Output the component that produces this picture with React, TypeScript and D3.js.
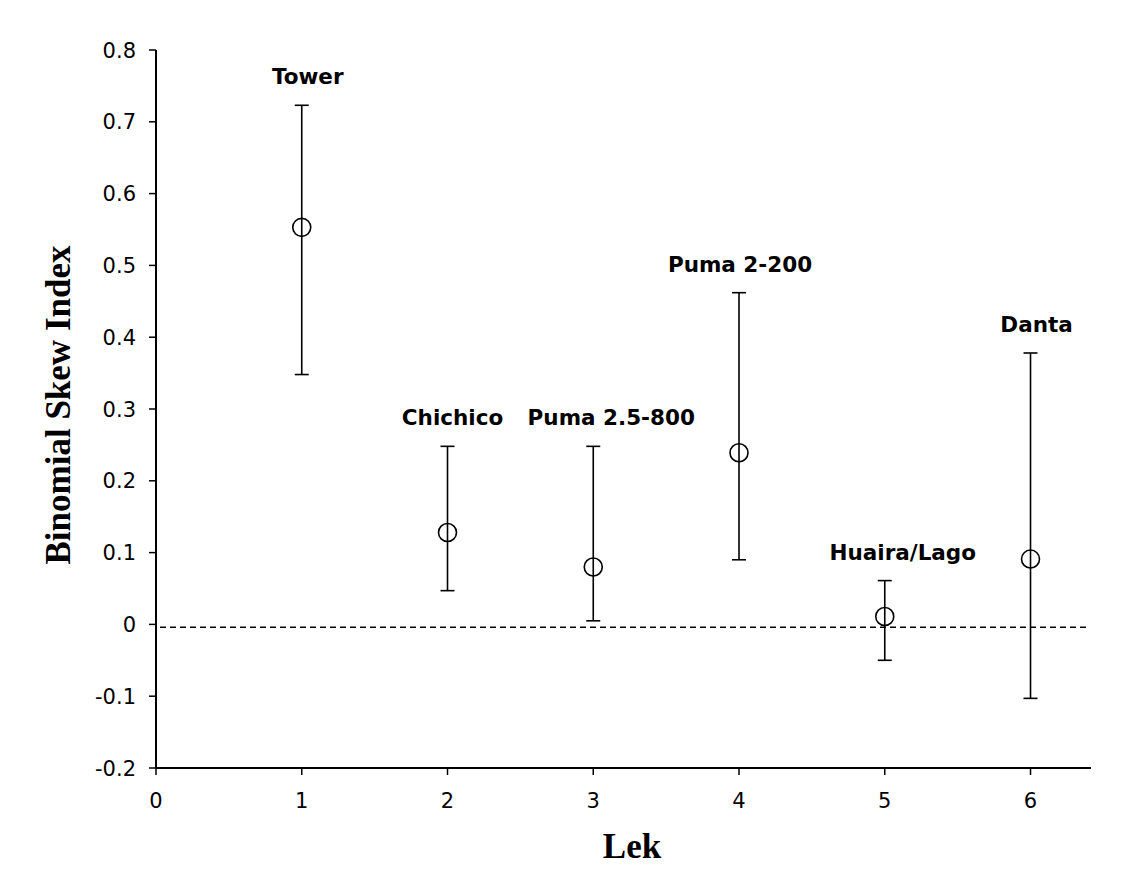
import * as d3 from "d3";
import React from "react";

// lek number, mean skew, upper / lower error bar ends
const leks = [1, 2, 3, 4, 5, 6];
const names = ["Tower", "Chichico", "Puma 2.5-800", "Puma 2-200", "Huaira/Lago", "Danta"];
const skew = [0.553, 0.128, 0.08, 0.239, 0.011, 0.091];
const upper = [0.723, 0.248, 0.248, 0.462, 0.061, 0.378];
const lower = [0.348, 0.047, 0.005, 0.09, -0.05, -0.103];
const baseline = -0.004;
const yTicks = [-0.2, -0.1, 0, 0.1, 0.2, 0.3, 0.4, 0.5, 0.6, 0.7, 0.8];
const xTicks = [0, 1, 2, 3, 4, 5, 6];

const W = 1134;
const H = 892;
const left = 156;
const top = 50;
const plotW = 935;
const plotH = 718;

// small nudges so labels sit where the original put them
const labelDx = [6, 5, 18, 1, 18, 6];

export default function App() {
  const x = d3.scaleLinear().domain([0, 6.415]).range([left, left + plotW]);
  const y = d3.scaleLinear().domain([-0.2, 0.8]).range([top + plotH, top]);
  const tickFont = "DejaVu Sans, Verdana, sans-serif";

  return (
    <svg width={W} height={H} style={{ position: "absolute", left: 0, top: 0, background: "#fff" }}>
      {/* zero reference */}
      <line
        x1={x(0) + 4}
        x2={x(6.4)}
        y1={y(baseline)}
        y2={y(baseline)}
        stroke="#000"
        strokeWidth={1.3}
        strokeDasharray="6,4"
      />

      {/* y axis */}
      <line x1={left} x2={left} y1={top} y2={top + plotH} stroke="#000" strokeWidth={2} />
      {yTicks.map((t) => (
        <g key={t}>
          <line x1={left - 7} x2={left} y1={y(t)} y2={y(t)} stroke="#000" strokeWidth={1.5} />
          <text
            x={left - 20}
            y={y(t)}
            dy="0.36em"
            textAnchor="end"
            fontFamily={tickFont}
            fontSize={21}
          >
            {t === 0 ? "0" : t.toFixed(1)}
          </text>
        </g>
      ))}

      {/* x axis */}
      <line x1={left} x2={left + plotW} y1={top + plotH} y2={top + plotH} stroke="#000" strokeWidth={2} />
      {xTicks.map((t) => (
        <g key={t}>
          <line x1={x(t)} x2={x(t)} y1={top + plotH} y2={top + plotH + 7} stroke="#000" strokeWidth={1.5} />
          <text x={x(t)} y={top + plotH + 40} textAnchor="middle" fontFamily={tickFont} fontSize={21}>
            {t}
          </text>
        </g>
      ))}

      {/* error bars and points */}
      {leks.map((k, i) => (
        <g key={k}>
          <line x1={x(k)} x2={x(k)} y1={y(upper[i])} y2={y(lower[i])} stroke="#000" strokeWidth={1.6} />
          <line x1={x(k) - 7} x2={x(k) + 7} y1={y(upper[i])} y2={y(upper[i])} stroke="#000" strokeWidth={1.6} />
          <line x1={x(k) - 7} x2={x(k) + 7} y1={y(lower[i])} y2={y(lower[i])} stroke="#000" strokeWidth={1.6} />
          <circle cx={x(k)} cy={y(skew[i])} r={9} fill="none" stroke="#000" strokeWidth={1.6} />
          <text
            x={x(k) + labelDx[i]}
            y={y(upper[i]) - 21}
            textAnchor="middle"
            fontFamily={tickFont}
            fontWeight="bold"
            fontSize={21.5}
          >
            {names[i]}
          </text>
        </g>
      ))}

      {/* axis titles */}
      <text
        x={632}
        y={858}
        textAnchor="middle"
        fontFamily="Liberation Serif, Times New Roman, serif"
        fontWeight="bold"
        fontSize={35}
      >
        Lek
      </text>
      <text
        transform={`translate(70, 405) rotate(-90)`}
        textAnchor="middle"
        fontFamily="Liberation Serif, Times New Roman, serif"
        fontWeight="bold"
        fontSize={35}
      >
        Binomial Skew Index
      </text>
    </svg>
  );
}
